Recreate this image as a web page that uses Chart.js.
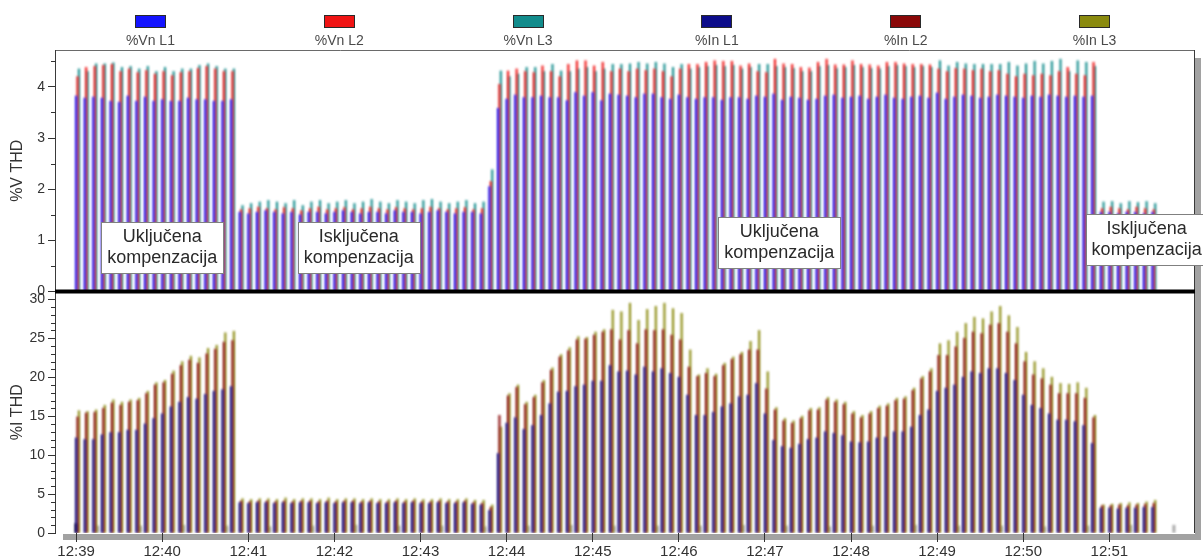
<!DOCTYPE html>
<html>
<head>
<meta charset="utf-8">
<script src="https://cdn.jsdelivr.net/npm/chart.js@4/dist/chart.umd.min.js"></script>
<style>
  html, body { margin: 0; padding: 0; background: #fff; }
  #wrap { position: relative; width: 1203px; height: 558px; overflow: hidden; }
  #c { position: absolute; left: 0; top: 0; }
  #legend { position: absolute; left: 56px; top: 0; width: 1133px; height: 50px; display: flex; }
  .item { flex: 1; display: flex; flex-direction: column; align-items: center; }
  .sw { width: 29px; height: 11px; border: 1px solid #2a2a2a; margin-top: 15px; }
  .lb { font: 14px "Liberation Sans", Arial, sans-serif; color: #4a4a4a; margin-top: 4px; line-height: 16px; }
</style>
</head>
<body>
<div id="wrap">
  <canvas id="c" width="1203" height="558"></canvas>
  <div id="legend"></div>
</div>
<script>
// Sample clock times (one reading every 6 s)
const sampleTimes = [
  '12:39:01','12:39:07','12:39:13','12:39:19','12:39:25','12:39:31','12:39:37','12:39:43','12:39:49','12:39:55',
  '12:40:01','12:40:07','12:40:13','12:40:19','12:40:25','12:40:31','12:40:37','12:40:43','12:40:49','12:40:55',
  '12:41:01','12:41:07','12:41:13','12:41:19','12:41:25','12:41:31','12:41:37','12:41:43','12:41:49','12:41:55',
  '12:42:01','12:42:07','12:42:13','12:42:19','12:42:25','12:42:31','12:42:37','12:42:43','12:42:49','12:42:55',
  '12:43:01','12:43:07','12:43:13','12:43:19','12:43:25','12:43:31','12:43:37','12:43:43','12:43:49','12:43:55',
  '12:44:01','12:44:07','12:44:13','12:44:19','12:44:25','12:44:31','12:44:37','12:44:43','12:44:49','12:44:55',
  '12:45:01','12:45:07','12:45:13','12:45:19','12:45:25','12:45:31','12:45:37','12:45:43','12:45:49','12:45:55',
  '12:46:01','12:46:07','12:46:13','12:46:19','12:46:25','12:46:31','12:46:37','12:46:43','12:46:49','12:46:55',
  '12:47:01','12:47:07','12:47:13','12:47:19','12:47:25','12:47:31','12:47:37','12:47:43','12:47:49','12:47:55',
  '12:48:01','12:48:07','12:48:13','12:48:19','12:48:25','12:48:31','12:48:37','12:48:43','12:48:49','12:48:55',
  '12:49:01','12:49:07','12:49:13','12:49:19','12:49:25','12:49:31','12:49:37','12:49:43','12:49:49','12:49:55',
  '12:50:01','12:50:07','12:50:13','12:50:19','12:50:25','12:50:31','12:50:37','12:50:43','12:50:49','12:50:55',
  '12:51:01','12:51:07','12:51:13','12:51:19','12:51:25','12:51:31'
];

// Voltage THD, %
const vnL1 = [
  3.82,3.78,3.80,3.78,3.72,3.70,3.82,3.72,3.80,3.72,3.75,3.72,3.72,3.78,3.75,3.75,3.72,3.72,3.75,
  1.55,1.52,1.55,1.58,1.55,1.52,1.55,1.50,1.55,1.55,1.52,1.55,1.58,1.55,1.52,1.55,1.55,1.52,1.58,1.55,1.55,1.52,1.55,1.58,1.55,1.52,1.55,1.55,1.52,
  2.05,
  3.58,3.76,3.84,3.79,3.79,3.82,3.79,3.79,3.73,3.89,3.82,3.89,3.73,3.86,3.84,3.82,3.79,3.86,3.86,3.79,3.76,3.84,3.79,3.76,3.79,3.79,3.74,3.79,3.79,
  3.76,3.82,3.80,3.86,3.74,3.80,3.78,3.74,3.76,3.82,3.84,3.78,3.80,3.82,3.76,3.80,3.84,3.78,3.76,3.80,3.82,3.78,3.88,3.76,3.80,3.84,3.82,3.78,3.80,3.84,3.82,3.80,3.78,3.82,3.80,3.84,3.82,3.80,3.82,3.80,3.82,
  1.55,1.55,1.52,1.55,1.55,1.52,1.55
];
const vnL2 = [
  4.20,4.38,4.40,4.42,4.44,4.30,4.35,4.28,4.32,4.25,4.30,4.22,4.28,4.30,4.36,4.40,4.35,4.30,4.30,
  1.60,1.62,1.65,1.62,1.60,1.64,1.62,1.58,1.62,1.65,1.60,1.62,1.64,1.60,1.62,1.65,1.62,1.60,1.64,1.62,1.60,1.62,1.65,1.62,1.60,1.62,1.64,1.60,1.62,
  2.15,
  4.05,4.31,4.35,4.30,4.28,4.41,4.30,4.20,4.44,4.51,4.51,4.41,4.48,4.30,4.35,4.30,4.35,4.32,4.35,4.30,
  4.20,4.35,4.44,4.44,4.48,4.51,4.50,4.50,4.41,4.45,4.30,4.28,4.54,4.45,4.44,4.38,4.37,4.48,4.54,4.43,
  4.43,4.51,4.44,4.43,4.41,4.48,4.48,4.45,4.44,4.44,4.43,4.35,4.30,4.36,4.35,4.32,4.35,4.30,4.32,4.25,
  4.20,4.25,4.22,4.25,4.22,4.30,4.38,4.25,4.22,4.48,
  1.62,1.65,1.62,1.60,1.65,1.62,1.60
];
const vnL3 = [
  4.35,4.30,4.45,4.45,4.47,4.38,4.40,4.35,4.40,4.30,4.38,4.30,4.35,4.35,4.42,4.45,4.40,4.35,4.35,
  1.68,1.72,1.75,1.78,1.75,1.72,1.78,1.68,1.75,1.78,1.72,1.75,1.78,1.72,1.75,1.80,1.75,1.72,1.78,1.75,1.72,1.78,1.80,1.75,1.72,1.75,1.78,1.72,1.75,
  2.38,
  4.31,4.20,4.25,4.38,4.38,4.30,4.44,4.31,4.30,4.35,4.38,4.30,4.35,4.44,4.44,4.45,4.48,4.45,4.48,4.45,
  4.38,4.44,4.35,4.38,4.40,4.42,4.40,4.42,4.35,4.38,4.44,4.44,4.40,4.38,4.36,4.30,4.30,4.40,4.42,4.36,
  4.38,4.42,4.38,4.36,4.35,4.40,4.42,4.40,4.38,4.40,4.38,4.51,4.41,4.48,4.45,4.44,4.44,4.44,4.44,4.48,
  4.41,4.45,4.50,4.45,4.50,4.54,4.30,4.51,4.48,4.40,
  1.75,1.76,1.72,1.76,1.74,1.76,1.72
];

// Current THD, %
const inL1 = [
  12.2,12.0,12.0,12.6,12.9,12.9,13.2,13.2,14.0,14.7,15.3,16.2,16.8,17.4,17.2,17.8,18.2,18.4,18.8,
  3.9,3.8,3.9,3.9,3.8,3.9,3.8,3.9,3.9,3.8,3.9,3.8,3.9,3.9,3.8,3.9,3.8,3.8,3.9,3.8,3.9,3.8,3.8,3.9,3.8,3.8,3.9,3.7,3.6,
  2.9,
  10.2,14.1,14.8,13.3,13.8,15.1,16.6,18.1,18.2,18.8,19.0,19.5,19.5,21.5,20.7,20.8,20.3,21.3,20.7,21.1,
  20.5,20.0,17.7,15.1,15.1,15.5,16.2,16.6,17.5,17.7,19.2,15.3,11.9,
  11.1,10.9,11.4,12.0,12.2,13.0,12.8,12.5,11.7,11.6,11.7,12.2,12.3,13.0,13.0,13.6,15.1,15.8,18.2,
  18.6,19.0,20.0,20.7,20.5,21.1,21.1,20.5,19.6,17.7,16.4,16.0,15.3,14.5,14.5,14.3,13.8,11.5,
  3.2,3.2,3.1,3.2,3.2,3.3,3.3
];
const inL2 = [
  14.9,15.4,15.5,16.0,16.7,16.4,16.8,17.0,17.9,19.0,19.3,20.4,21.5,22.2,21.8,23.0,23.6,24.5,24.7,
  4.1,4.0,4.1,4.1,4.0,4.1,4.0,4.1,4.1,4.0,4.1,4.0,4.1,4.1,4.0,4.1,4.0,4.0,4.1,4.0,4.1,4.0,4.0,4.1,4.0,4.0,4.1,3.9,3.8,
  3.3,
  15.1,17.6,18.7,16.5,17.4,19.3,20.9,22.6,23.4,24.8,24.9,25.4,25.8,26.1,24.8,26.0,24.3,26.1,26.0,26.1,
  25.4,24.8,21.3,20.1,20.5,20.1,21.5,22.3,22.9,23.5,23.5,18.5,15.8,
  14.4,14.1,14.7,15.7,15.8,17.1,16.8,16.5,15.3,14.8,15.3,16.0,16.3,17.0,17.2,18.3,19.8,20.7,22.8,
  22.8,23.9,25.0,25.8,25.6,26.7,26.9,25.8,24.3,22.0,20.3,19.8,19.0,17.9,17.9,17.9,17.3,14.8,
  3.5,3.5,3.6,3.5,3.6,3.7,3.8
];
const inL3 = [
  15.7,15.6,15.8,16.4,17.1,16.8,17.1,17.3,18.2,19.3,19.6,20.8,22.0,22.7,22.5,23.7,24.1,25.7,25.9,
  4.4,4.3,4.4,4.4,4.3,4.5,4.3,4.4,4.4,4.3,4.5,4.3,4.4,4.4,4.3,4.4,4.3,4.3,4.4,4.3,4.4,4.3,4.3,4.4,4.3,4.3,4.4,4.2,4.2,
  3.6,
  13.6,17.9,19.0,16.8,17.7,19.6,21.2,22.9,23.8,25.2,25.1,25.8,26.1,28.6,28.4,29.5,27.3,28.7,29.1,29.5,
  28.8,28.2,23.5,20.3,21.1,20.4,21.8,22.6,23.2,24.6,26.0,20.7,16.1,
  14.7,14.4,15.0,16.0,16.1,17.4,17.1,16.8,15.6,15.1,15.6,16.3,16.6,17.3,17.5,18.6,20.1,21.1,24.3,
  24.7,25.8,26.9,27.7,27.5,28.4,29.1,27.9,26.4,23.2,22.0,21.1,20.0,19.2,19.1,19.3,18.6,15.1,
  3.6,3.7,3.8,3.9,3.8,4.0,4.2
];

// Short event marks on the current panel
const markTimes = [
  '12:39:00','12:39:15','12:39:45','12:40:15','12:40:45','12:41:15','12:41:45','12:42:15','12:42:45',
  '12:43:15','12:43:45','12:44:15','12:44:45','12:45:15','12:45:45','12:46:15','12:46:45','12:47:15',
  '12:47:45','12:48:15','12:48:45','12:49:15','12:49:45','12:50:15','12:50:45','12:51:15','12:51:45'
];
const markValues = [1.2,0.9,0.9,1.0,0.9,0.8,0.9,1.0,0.9,0.9,0.8,0.9,1.0,0.9,0.9,0.9,1.0,0.9,0.8,0.9,1.0,0.9,0.9,0.8,0.9,1.0,1.0];

// Text boxes on the voltage panel
const notes = [
  { at: '12:40:00', v: 0.86, lines: ['Uključena', 'kompenzacija'] },
  { at: '12:42:17', v: 0.86, lines: ['Isključena', 'kompenzacija'] },
  { at: '12:47:10', v: 0.96, lines: ['Uključena', 'kompenzacija'] },
  { at: '12:51:26', v: 1.02, lines: ['Isključena', 'kompenzacija'] }
];

const FONT = '"Liberation Sans", Arial, Helvetica, sans-serif';
const BASE = 12 * 3600 + 39 * 60;
const toSec = s => { const [h, m, x] = s.split(':').map(Number); return h * 3600 + m * 60 + x - BASE; };
const clock = v => { const t = BASE + v; const h = Math.floor(t / 3600); const m = Math.floor((t % 3600) / 60); return h + ':' + String(m).padStart(2, '0'); };

const xs = sampleTimes.map(toSec);
const pts = arr => arr.map((y, i) => ({ x: xs[i], y }));

const BAR_W = 1.4;
const series = [
  { label: '%Vn L1', data: pts(vnL1), color: '#1414ff', axis: 'yV', slot: 'L1' },
  { label: '%Vn L2', data: pts(vnL2), color: '#f01414', axis: 'yV', slot: 'L2' },
  { label: '%Vn L3', data: pts(vnL3), color: '#128c8c', axis: 'yV', slot: 'L3' },
  { label: '%In L1', data: pts(inL1), color: '#0c0c8a', axis: 'yI', slot: 'L1' },
  { label: '%In L2', data: pts(inL2), color: '#8a0808', axis: 'yI', slot: 'L2' },
  { label: '%In L3', data: pts(inL3), color: '#8a8a0e', axis: 'yI', slot: 'L3' }
];

const datasets = series.map(s => ({
  type: 'bar', label: s.label, data: s.data, yAxisID: s.axis, stack: s.slot,
  backgroundColor: s.color, borderWidth: 0, barThickness: BAR_W
}));
datasets.push({
  type: 'bar', label: 'marks', yAxisID: 'yI', stack: 'L2', borderWidth: 0, barThickness: 2.2,
  data: markTimes.map((t, i) => ({ x: toSec(t), y: markValues[i] })),
  backgroundColor: markTimes.map((t, i) => i === 0 ? '#2a2a3a' : '#a6a6a6')
});

// Frame, drop shadow, minor ticks, zero line and text boxes
const framePlugin = {
  id: 'framePlugin',
  beforeDraw(chart) {
    const { ctx, chartArea: a } = chart;
    ctx.save();
    ctx.fillStyle = '#a2a2a2';
    ctx.fillRect(a.right + 1, a.top + 8, 6, a.bottom - a.top - 1);
    ctx.fillRect(a.left + 7, a.bottom + 1, a.right - a.left, 6);
    ctx.restore();
  },
  beforeDatasetsDraw(chart) {
    // the thin neighbouring bars run together
    chart.ctx.save();
    chart.ctx.filter = 'blur(0.85px)';
  },
  afterDatasetsDraw(chart) {
    const { ctx, chartArea: a, scales } = chart;
    ctx.restore();
    const yV = scales.yV, yI = scales.yI;
    ctx.save();
    // frame
    ctx.strokeStyle = '#6a6a6a';
    ctx.lineWidth = 1;
    ctx.beginPath();
    ctx.moveTo(a.left - 0.5, a.top + 0.5);
    ctx.lineTo(a.right + 0.5, a.top + 0.5);
    ctx.stroke();
    ctx.strokeStyle = '#3a3a3a';
    ctx.beginPath();
    ctx.moveTo(a.left - 0.5, a.top);
    ctx.lineTo(a.left - 0.5, a.bottom);
    ctx.moveTo(a.right + 0.5, a.top);
    ctx.lineTo(a.right + 0.5, a.bottom);
    ctx.stroke();
    // minor ticks
    ctx.strokeStyle = '#333';
    ctx.beginPath();
    for (let v = 0.5; v < yV.max; v += 1) {
      const y = Math.round(yV.getPixelForValue(v)) + 0.5;
      ctx.moveTo(a.left - 5, y); ctx.lineTo(a.left, y);
    }
    for (let v = 1; v < yI.max; v += 1) {
      if (v % 5 === 0) continue;
      const y = Math.round(yI.getPixelForValue(v)) + 0.5;
      ctx.moveTo(a.left - 5, y); ctx.lineTo(a.left, y);
    }
    ctx.stroke();
    // zero line of the voltage panel
    const y0 = yV.getPixelForValue(0);
    ctx.fillStyle = '#000';
    ctx.fillRect(a.left - 1, y0 - 2, a.right - a.left + 2, 4);
    // text boxes
    ctx.font = '18px ' + FONT;
    ctx.textAlign = 'center';
    ctx.textBaseline = 'middle';
    for (const n of notes) {
      const cx = scales.x.getPixelForValue(toSec(n.at));
      const cy = yV.getPixelForValue(n.v);
      const w = Math.max(...n.lines.map(l => ctx.measureText(l).width)) + 12;
      const h = 51;
      const x0 = Math.round(cx - w / 2) + 0.5, yb = Math.round(cy - h / 2) + 0.5;
      ctx.fillStyle = '#fff';
      ctx.fillRect(x0, yb, w, h);
      ctx.strokeStyle = '#808080';
      ctx.strokeRect(x0, yb, w, h);
      ctx.fillStyle = '#2a2a2a';
      ctx.fillText(n.lines[0], cx, cy - 10);
      ctx.fillText(n.lines[1], cx, cy + 11);
    }
    ctx.restore();
  }
};

Chart.defaults.font.family = FONT;

const yAxis = (title, max, step) => ({
  type: 'linear', position: 'left', stack: 'panels', stackWeight: 1,
  min: 0, max, stacked: false,
  grid: { drawOnChartArea: false, drawTicks: true, tickLength: 8, color: '#333' },
  border: { display: false },
  ticks: { stepSize: step, includeBounds: false, padding: 3, color: '#333', font: { size: 14 } },
  title: { display: true, text: title, color: '#333', font: { size: 16 }, padding: { top: 8, bottom: 0 } },
  afterFit: s => { s.width = 56; }
});

const chart = new Chart(document.getElementById('c'), {
  type: 'bar',
  data: { datasets },
  options: {
    responsive: false,
    animation: false,
    events: [],
    layout: { padding: { top: 50, right: 9, left: 0, bottom: 0 } },
    plugins: { legend: { display: false }, tooltip: { enabled: false } },
    scales: {
      x: {
        type: 'linear', min: -14, max: 779, offset: false,
        grid: { display: true, offset: false, drawOnChartArea: false, drawTicks: true, tickLength: 9, color: '#333' },
        border: { display: false },
        ticks: { stepSize: 60, includeBounds: false, autoSkip: false, maxRotation: 0, padding: 1,
                 color: '#333', font: { size: 15 }, callback: v => clock(v) },
        afterFit: s => { s.height = 25; }
      },
      yI: yAxis('%I THD', 31, 5),
      yV: yAxis('%V THD', 4.72, 1)
    }
  },
  plugins: [framePlugin]
});

// Legend row
const legend = document.getElementById('legend');
series.forEach(s => {
  const item = document.createElement('div');
  item.className = 'item';
  const sw = document.createElement('div');
  sw.className = 'sw';
  sw.style.background = s.color;
  const lb = document.createElement('div');
  lb.className = 'lb';
  lb.textContent = s.label;
  item.appendChild(sw);
  item.appendChild(lb);
  legend.appendChild(item);
});
</script>
</body>
</html>
